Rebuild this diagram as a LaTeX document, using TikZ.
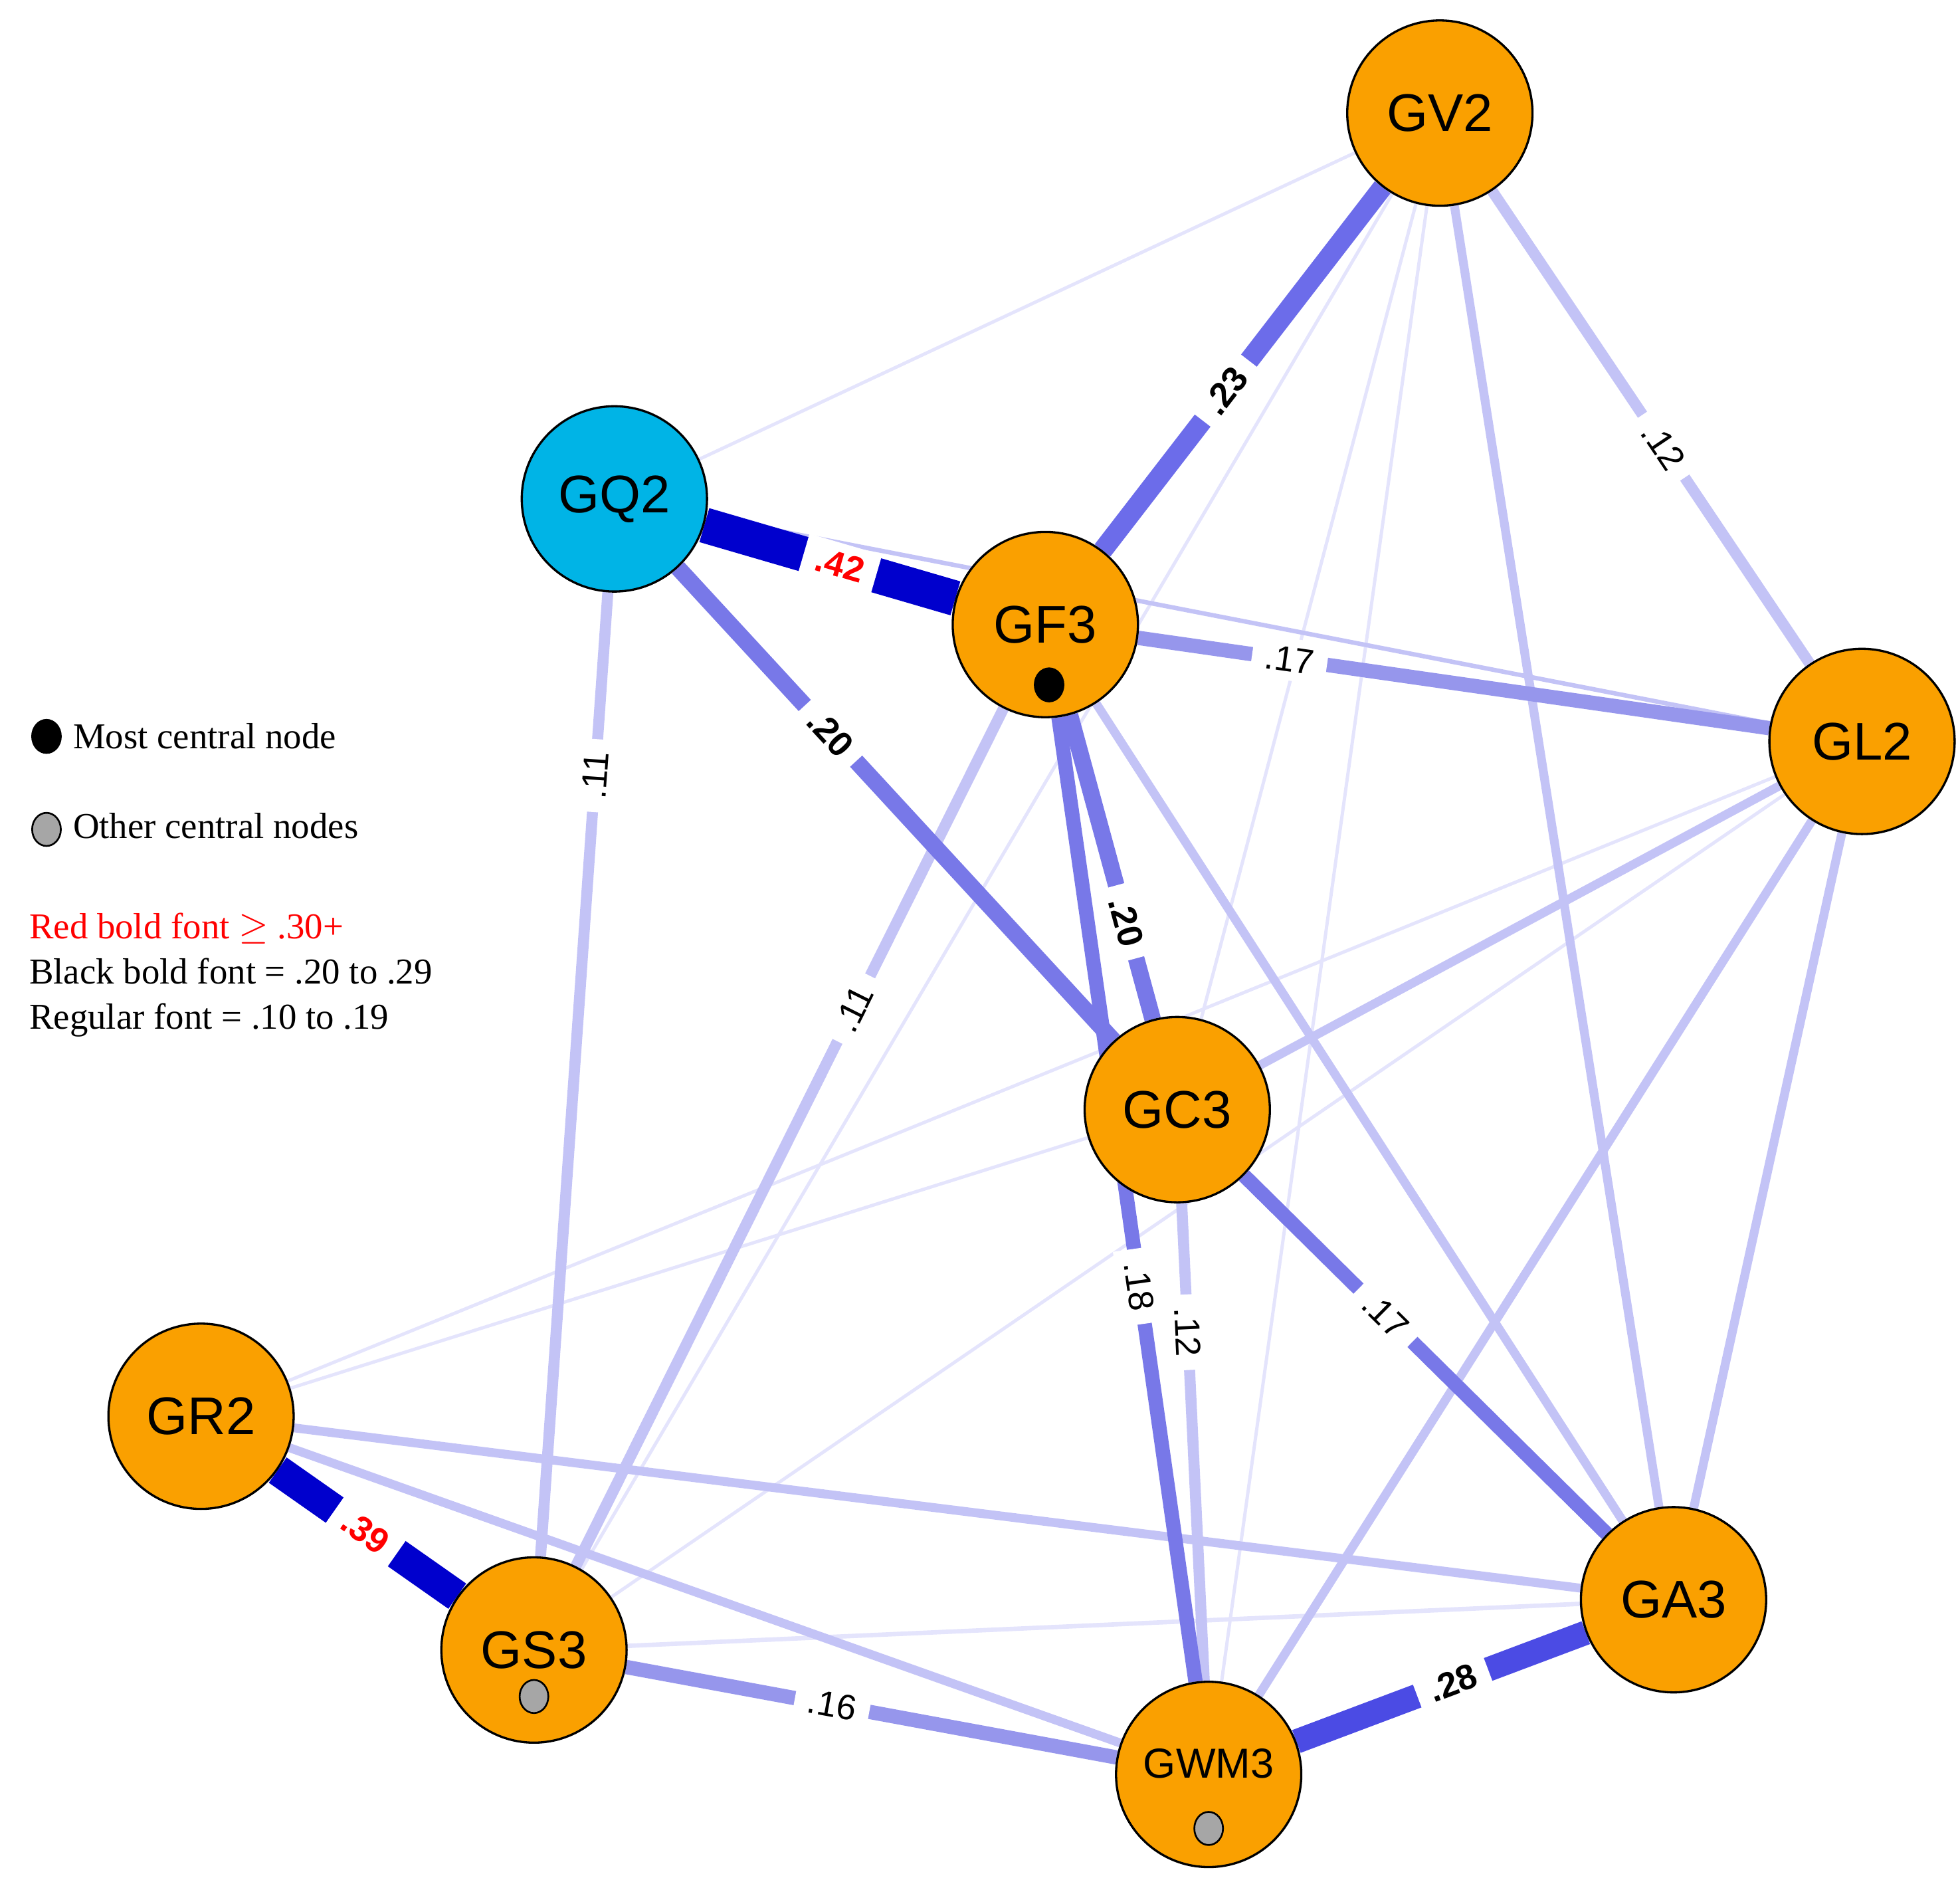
\documentclass[tikz,border=0pt]{standalone}
\usepackage{fontspec}
\setmainfont{Liberation Serif}
\newfontfamily\sansf{Liberation Sans}
\usetikzlibrary{backgrounds,shapes.geometric}
\definecolor{orng}{RGB}{250,160,0}
\definecolor{cyanb}{RGB}{0,180,230}
\definecolor{ca}{RGB}{0,0,205}
\definecolor{cb}{RGB}{75,75,228}
\definecolor{cc}{RGB}{120,120,232}
\definecolor{cd}{RGB}{150,150,236}
\definecolor{ce}{RGB}{195,195,246}
\definecolor{cf}{RGB}{228,228,252}
\begin{document}
\begin{tikzpicture}[x=0.02cm,y=-0.02cm,
 nd/.style={circle,draw=black,line width=1pt,fill=orng,minimum size=148*0.567pt,inner sep=0pt,font=\sansf\fontsize{24}{24}\selectfont},
 lb/.style={fill=white,text=black,sloped,inner xsep=6pt,inner ysep=4pt,font=\sansf\fontsize{16}{16}\selectfont},
 bl/.style={lb,font=\sansf\bfseries\fontsize{16}{16}\selectfont},
 rd/.style={bl,text=red},
 dot/.style={ellipse,draw=black,line width=0.8pt,minimum width=13pt,minimum height=15pt,inner sep=0pt}]
\useasboundingbox (0,0) rectangle (1560,1496);
\node[nd] (GV2) at (1146,90) {GV2};
\node[nd,fill=cyanb] (GQ2) at (489,397) {GQ2};
\node[nd] (GF3) at (832,497) {GF3};
\node[nd] (GL2) at (1482,590) {GL2};
\node[nd] (GC3) at (937,883) {GC3};
\node[nd] (GR2) at (160,1127) {GR2};
\node[nd] (GS3) at (425,1313) {GS3};
\node[nd] (GA3) at (1332,1273) {GA3};
\node[nd,font=\sansf\fontsize{19}{19}\selectfont] (GWM3) at (962,1412) {\raisebox{10pt}{GWM3}};
\node[dot,fill=black] (d1) at (835,545) {};
\node[dot,fill=gray!70] (d2) at (425,1350) {};
\node[dot,fill=gray!70] (d3) at (962,1455) {};
\begin{pgfonlayer}{background}
% thin / light edges
\draw[cf,line width=1.5pt] (GQ2) -- (GV2);
\draw[cf,line width=1.5pt] (GV2) -- (GWM3);
\draw[cf,line width=1.5pt] (GV2) -- (GS3);
\draw[cf,line width=1.5pt] (GV2) -- (GC3);
\draw[cf,line width=1.5pt] (GR2) -- (GL2);
\draw[cf,line width=1.5pt] (GR2) -- (GC3);
\draw[cf,line width=1.5pt] (GS3) -- (GL2);
\draw[cf,line width=2pt] (GS3) -- (GA3);
\draw[ce,line width=2pt] (GQ2) -- (GL2);
\draw[ce,line width=4pt] (GV2) -- (GA3);
\draw[ce,line width=4pt] (GF3) -- (GA3);
\draw[ce,line width=4pt] (GL2) -- (GC3);
\draw[ce,line width=4pt] (GL2) -- (GA3);
\draw[ce,line width=4pt] (GL2) -- (GWM3);
\draw[ce,line width=4pt] (GR2) -- (GA3);
\draw[ce,line width=4pt] (GR2) -- (GWM3);
% labelled edges
\draw[ce,line width=5pt] (GQ2) -- node[lb,pos=0.19]{.11} (GS3);
\draw[ce,line width=5pt] (GF3) -- node[lb,pos=0.35]{.11} (GS3);
\draw[ce,line width=5pt] (GV2) -- node[lb,pos=0.54]{.12} (GL2);
\draw[ce,line width=5pt] (GC3) -- node[lb,pos=0.27]{.12} (GWM3);
\draw[cd,line width=6.5pt] (GS3) -- node[lb,pos=0.42]{.16} (GWM3);
\draw[cd,line width=6.5pt] (GF3) -- node[lb,pos=0.24]{.17} (GL2);
\draw[cc,line width=6.5pt] (GC3) -- node[lb,pos=0.39]{.17} (GA3);
\draw[cc,line width=6.5pt] (GF3) -- node[lb,pos=0.59]{.18} (GWM3);
\draw[cc,line width=7.5pt] (GQ2) -- node[bl,pos=0.35]{.20} (GC3);
\draw[cc,line width=7.5pt] (GF3) -- node[bl,pos=0.68]{.20} (GC3);
\draw[cc!90!blue,line width=9pt] (GV2) -- node[bl,pos=0.56]{.23} (GF3);
\draw[cb,line width=11pt] (GWM3) -- node[bl,pos=0.54]{.28} (GA3);
\draw[ca,line width=14pt] (GR2) -- node[rd,pos=0.49]{.39} (GS3);
\draw[ca,line width=16pt] (GQ2) -- node[rd,pos=0.54]{.42} (GF3);
\end{pgfonlayer}
% legend
\node[dot,fill=black] (l1) at (37,586) {};
\node[anchor=west,font=\fontsize{16.5}{16.5}\selectfont] (t1) at (52,586) {Most central node};
\node[dot,fill=gray!70] (l2) at (37,660) {};
\node[anchor=west,font=\fontsize{16.5}{16.5}\selectfont] (t2) at (52,657) {Other central nodes};
\node[anchor=west,align=left,inner sep=0pt,font=\fontsize{16.5}{20.5}\selectfont] (t3) at (23,776)
 {\textcolor{red}{Red bold font $\geq$ .30+}\\Black bold font = .20 to .29\\Regular font = .10 to .19};
\end{tikzpicture}
\end{document}
